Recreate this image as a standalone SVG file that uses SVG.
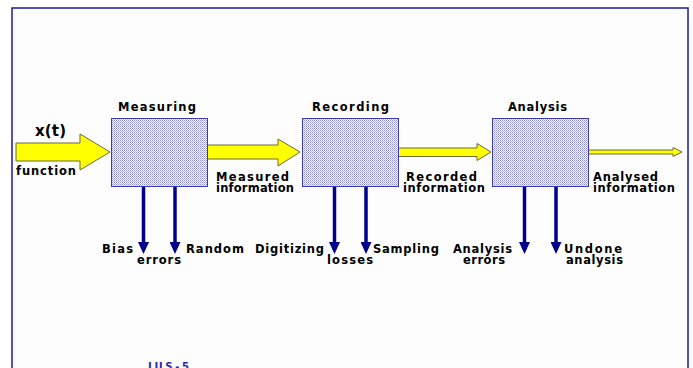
<svg xmlns="http://www.w3.org/2000/svg" width="693" height="368" viewBox="0 0 693 368">
<defs>
<pattern id="dots" width="2" height="2" patternUnits="userSpaceOnUse">
<rect width="2" height="2" fill="#ffffff"/>
<rect width="1" height="1" fill="#8c8cd8"/>
<rect x="1" y="1" width="1" height="1" fill="#b4b4e8"/>
</pattern>
<marker id="down" viewBox="0 0 12 11" refX="8" refY="5.5" markerWidth="12" markerHeight="11" markerUnits="userSpaceOnUse" orient="auto">
<path d="M0,0 L12,5.5 L0,11 Z" fill="#00008b"/>
</marker>
</defs>
<style>
.box{fill:url(#dots);stroke:#3c3cb0;stroke-width:1}
.t{font-family:"DejaVu Sans",Verdana,sans-serif;font-weight:bold;font-size:11.5px;fill:#000}
.ya{fill:#ffff00;stroke:#6b6b3a;stroke-width:1;stroke-linejoin:miter}
.dn{stroke:#00008b;stroke-width:3.5;fill:none}
</style>
<rect x="0" y="0" width="693" height="368" fill="#ffffff"/>
<rect x="12" y="8" width="676" height="370" fill="#fdfdfd" stroke="#1a1aa8" stroke-width="1.5"/>

<g id="connectors">
<path class="ya" d="M16,143 L80,143 L80,134 L110,152 L80,170 L80,161 L16,161 Z"/>
<path class="ya" d="M207,145 L278,145 L278,139 L300,152 L278,166 L278,159 L207,159 Z"/>
<path class="ya" d="M398,148 L477,148 L477,143.5 L491,152 L477,160.5 L477,156.5 L398,156.5 Z"/>
<path class="ya" d="M588,150 L673,150 L673,147.5 L682,152 L673,156.5 L673,154 L588,154 Z"/>
<line class="dn" x1="143.5" y1="187" x2="143.5" y2="250" marker-end="url(#down)"/>
<line class="dn" x1="175" y1="187" x2="175" y2="250" marker-end="url(#down)"/>
<line class="dn" x1="334.5" y1="187" x2="334.5" y2="250" marker-end="url(#down)"/>
<line class="dn" x1="366" y1="187" x2="366" y2="250" marker-end="url(#down)"/>
<line class="dn" x1="524.5" y1="187" x2="524.5" y2="250" marker-end="url(#down)"/>
<line class="dn" x1="556" y1="187" x2="556" y2="250" marker-end="url(#down)"/>
</g>

<g id="measuring">
<rect class="box" x="111.5" y="118.5" width="96" height="68"/>
<text class="t" x="118" y="111" textLength="78" lengthAdjust="spacing">Measuring</text>
</g>
<g id="recording">
<rect class="box" x="302.5" y="118.5" width="96" height="68"/>
<text class="t" x="312" y="111" textLength="77" lengthAdjust="spacing">Recording</text>
</g>
<g id="analysis">
<rect class="box" x="492.5" y="118.5" width="96" height="68"/>
<text class="t" x="508" y="111" textLength="59" lengthAdjust="spacing">Analysis</text>
</g>

<g id="labels">
<text class="t" x="35" y="136" style="font-size:15px" textLength="31" lengthAdjust="spacing">x(t)</text>
<text class="t" x="16" y="175" textLength="60" lengthAdjust="spacing">function</text>
<text class="t" x="216" y="181" textLength="73" lengthAdjust="spacing">Measured</text>
<text class="t" x="216" y="192" textLength="78" lengthAdjust="spacing">information</text>
<text class="t" x="406" y="181" textLength="71" lengthAdjust="spacing">Recorded</text>
<text class="t" x="403" y="192" textLength="82" lengthAdjust="spacing">information</text>
<text class="t" x="593" y="181" textLength="65" lengthAdjust="spacing">Analysed</text>
<text class="t" x="593" y="192" textLength="82" lengthAdjust="spacing">information</text>
<text class="t" x="102" y="253" textLength="31" lengthAdjust="spacing">Bias</text>
<text class="t" x="137" y="264" textLength="44" lengthAdjust="spacing">errors</text>
<text class="t" x="186" y="253" textLength="58" lengthAdjust="spacing">Random</text>
<text class="t" x="255" y="253" textLength="69" lengthAdjust="spacing">Digitizing</text>
<text class="t" x="327" y="264" textLength="46" lengthAdjust="spacing">losses</text>
<text class="t" x="373" y="253" textLength="66" lengthAdjust="spacing">Sampling</text>
<text class="t" x="453" y="253" textLength="59" lengthAdjust="spacing">Analysis</text>
<text class="t" x="463" y="264" textLength="42" lengthAdjust="spacing">errors</text>
<text class="t" x="564" y="253" textLength="58" lengthAdjust="spacing">Undone</text>
<text class="t" x="566" y="264" textLength="57" lengthAdjust="spacing">analysis</text>
<text x="148" y="369.5" style="font-family:'DejaVu Sans',sans-serif;font-weight:bold;font-size:10px;fill:#2828b0" textLength="41" lengthAdjust="spacing">IUS-5</text>
</g>
</svg>
